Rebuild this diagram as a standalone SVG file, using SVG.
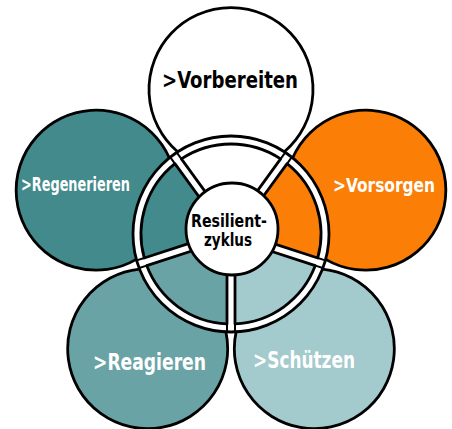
<svg xmlns="http://www.w3.org/2000/svg" width="452" height="429" viewBox="0 0 452 429">
<style>
.ol{stroke:#000;stroke-width:2.8;stroke-linejoin:round;stroke-linecap:round}
.tick{stroke:#000;stroke-width:2;stroke-linecap:round;fill:none}
.lbl{font-family:"Liberation Sans Narrow","DejaVu Sans Condensed","Liberation Sans",sans-serif;font-weight:bold}
.w{fill:#fff}.k{fill:#000}
.c-white{fill:#fff}.c-orange{fill:#FB7E06}.c-light{fill:#A3CACC}.c-mid{fill:#6AA3A5}.c-dark{fill:#428A8B}
</style>
<rect width="452" height="429" fill="#fff"/>
<g id="petal-vorbereiten"><path class="ol c-white" d="M177.6,151.8 A82,82 0 1,1 284.4,151.8 L231,234 Z"/></g>
<g id="petal-vorsorgen"><path class="ol c-orange" d="M292.7,157.8 A80,80 0 1,1 325.7,259.4 L231,234 Z"/></g>
<g id="petal-schuetzen"><path class="ol c-light" d="M322.5,269.1 A80,80 0 1,1 236.1,331.9 L231,234 Z"/></g>
<g id="petal-reagieren"><path class="ol c-mid" d="M225.9,331.9 A80,80 0 1,1 139.5,269.1 L231,234 Z"/></g>
<g id="petal-regenerieren"><path class="ol c-dark" d="M136.3,259.4 A80,80 0 1,1 169.3,157.8 L231,234 Z"/></g>
<g id="ring"><circle class="ol" cx="231" cy="234" r="98" fill="#fff"/></g>
<g id="sectors">
<path class="ol c-white" d="M181.39,158.91 A90,90 0 0,1 280.61,158.91 L245.24,207.60 A30,30 0 0,0 216.76,207.60 Z"/>
<path class="ol c-orange" d="M287.09,163.61 A90,90 0 0,1 317.75,257.98 L260.52,239.39 A30,30 0 0,0 251.72,212.30 Z"/>
<path class="ol c-light" d="M315.27,265.58 A90,90 0 0,1 235,323.91 L235,263.73 A30,30 0 0,0 258.04,246.99 Z"/>
<path class="ol c-mid" d="M227,323.91 A90,90 0 0,1 146.73,265.58 L203.96,246.99 A30,30 0 0,0 227,263.73 Z"/>
<path class="ol c-dark" d="M144.25,257.98 A90,90 0 0,1 174.91,163.61 L210.28,212.30 A30,30 0 0,0 201.48,239.39 Z"/>
</g>
<g id="connectors">
<path class="tick" d="M287.15,163.54 L291.25,157.88 M280.67,158.84 L284.78,153.18"/>
<path class="tick" d="M315.36,265.61 L322.02,267.77 M317.84,258.01 L324.50,260.17"/>
<path class="tick" d="M227,324 L227,331 M235,324 L235,331"/>
<path class="tick" d="M144.16,258.01 L137.50,260.17 M146.64,265.61 L139.98,267.77"/>
<path class="tick" d="M181.33,158.84 L177.22,153.18 M174.85,163.54 L170.74,157.88"/>
</g>
<g id="center"><circle class="ol" cx="232" cy="229" r="46" fill="#fff"/>
<text class="lbl k" x="191" y="227" font-size="17" textLength="76" lengthAdjust="spacingAndGlyphs">Resilient-</text>
<text class="lbl k" x="204" y="246" font-size="17" textLength="48" lengthAdjust="spacingAndGlyphs">zyklus</text>
</g>
<g id="labels">
<text class="lbl k" x="162" y="88" font-size="23" textLength="136" lengthAdjust="spacingAndGlyphs">&gt;Vorbereiten</text>
<text class="lbl w" x="21" y="191" font-size="20" textLength="109" lengthAdjust="spacingAndGlyphs">&gt;Regenerieren</text>
<text class="lbl w" x="333" y="192" font-size="19.5" textLength="102" lengthAdjust="spacingAndGlyphs">&gt;Vorsorgen</text>
<text class="lbl w" x="93" y="370" font-size="23" textLength="113" lengthAdjust="spacingAndGlyphs">&gt;Reagieren</text>
<text class="lbl w" x="253" y="368" font-size="23" textLength="102" lengthAdjust="spacingAndGlyphs">&gt;Schützen</text>
</g>
</svg>
